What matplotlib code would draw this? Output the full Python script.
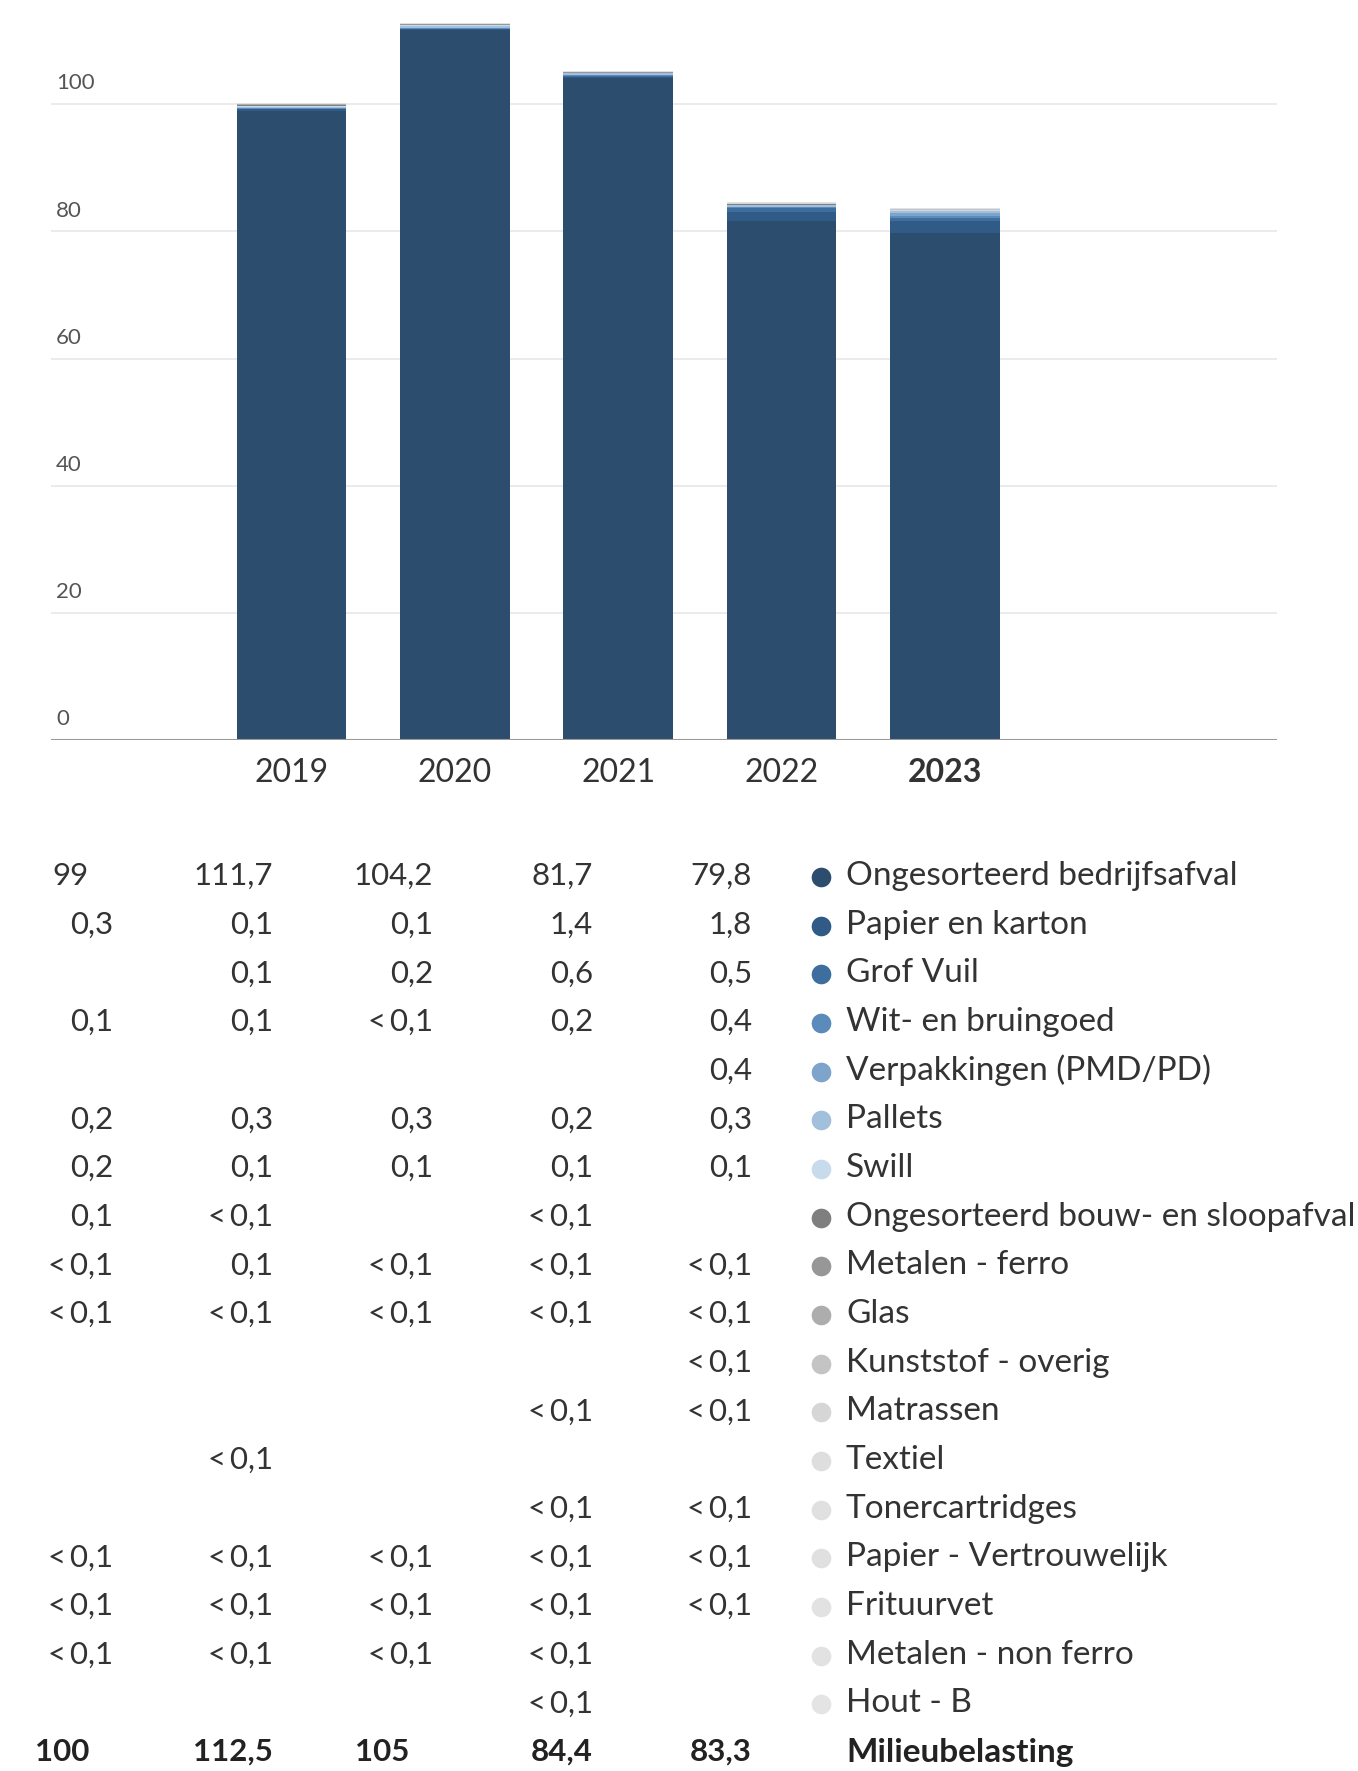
import matplotlib
matplotlib.use("Agg")
import matplotlib.pyplot as plt
import numpy as np

plt.rcParams['font.family'] = ['Lato', 'DejaVu Sans']

years = ['2019', '2020', '2021', '2022', '2023']

categories = ['Ongesorteerd bedrijfsafval', 'Papier en karton', 'Grof Vuil',
              'Wit- en bruingoed', 'Verpakkingen (PMD/PD)', 'Pallets', 'Swill',
              'Ongesorteerd bouw- en sloopafval', 'Metalen - ferro', 'Glas',
              'Kunststof - overig', 'Matrassen', 'Textiel', 'Tonercartridges',
              'Papier - Vertrouwelijk', 'Frituurvet', 'Metalen - non ferro', 'Hout - B']

LT = '<\u20090,1'
table = [
    ['99', '111,7', '104,2', '81,7', '79,8'],
    ['0,3', '0,1', '0,1', '1,4', '1,8'],
    ['', '0,1', '0,2', '0,6', '0,5'],
    ['0,1', '0,1', LT, '0,2', '0,4'],
    ['', '', '', '', '0,4'],
    ['0,2', '0,3', '0,3', '0,2', '0,3'],
    ['0,2', '0,1', '0,1', '0,1', '0,1'],
    ['0,1', LT, '', LT, ''],
    [LT, '0,1', LT, LT, LT],
    [LT, LT, LT, LT, LT],
    ['', '', '', '', LT],
    ['', '', '', LT, LT],
    ['', LT, '', '', ''],
    ['', '', '', LT, LT],
    [LT, LT, LT, LT, LT],
    [LT, LT, LT, LT, LT],
    [LT, LT, LT, LT, ''],
    ['', '', '', LT, ''],
]
totals = ['100', '112,5', '105', '84,4', '83,3']

colors = ['#2d4d6f', '#2f5b86', '#3d6e9e', '#5a8bbb', '#7ea4cb', '#a2bfdc',
          '#c8dbec', '#7f7f7f', '#979797', '#adadad', '#c4c4c4', '#d6d6d6',
          '#dedede', '#e0e0e0', '#e0e0e0', '#e2e2e2', '#e2e2e2', '#e4e4e4']


def num(s):
    if s == '':
        return 0.0
    if s.startswith('<'):
        return 0.05
    return float(s.replace(',', '.'))


W, H = 1358, 1771
fig = plt.figure(figsize=(W / 100, H / 100), dpi=100)

# bar chart
ax = fig.add_axes([51 / W, 1 - 740 / H, 1226 / W, 740 / H])
x = np.arange(len(years))
bottom = np.zeros(len(years))
for row, c in zip(table, colors):
    vals = np.array([num(v) for v in row])
    ax.bar(x, vals, 0.67, bottom=bottom, color=c, zorder=3, linewidth=0)
    bottom += vals

ax.set_xlim(-1.47, 6.03)
ax.set_ylim(0, 116.4)
for s in ax.spines.values():
    s.set_visible(False)
ax.axhline(0, color='#9a9a9a', lw=1.5, zorder=4)
for t in range(20, 101, 20):
    ax.axhline(t, color='#e8e8e8', lw=1.2, zorder=1)
for t in range(0, 101, 20):
    ax.text(0.004, t + 1.7, str(t), transform=ax.get_yaxis_transform(),
            ha='left', va='bottom', fontsize=16, color='#555555')
ax.set_yticks([])
ax.set_xticks(x)
ax.set_xticklabels(years, fontsize=23, color='#333333')
ax.tick_params(axis='x', length=0, pad=13)
ax.get_xticklabels()[-1].set_fontweight('bold')

# table below chart, in pixel coordinates
tb = fig.add_axes([0, 0, 1, 1], zorder=5)
tb.set_xlim(0, W)
tb.set_ylim(H, 0)
tb.axis('off')
tb.patch.set_alpha(0)

col_right = [113, 273, 433, 593, 752]
row_y0, row_dy = 876, 48.67
int_shift = 24
fs_num = 22.5
fs_lab = 24

for i, (row, cat, c) in enumerate(zip(table, categories, colors)):
    y = row_y0 + i * row_dy
    for j, v in enumerate(row):
        if v:
            xr = col_right[j] - (int_shift if ',' not in v else 0)
            tb.text(xr, y, v, ha='right', va='center', fontsize=fs_num, color='#333333')
    tb.scatter([821], [y + 1], s=200, color=c, linewidths=0)
    tb.text(846, y, cat, ha='left', va='center', fontsize=fs_lab, color='#333333')

y = row_y0 + len(table) * row_dy
for j, v in enumerate(totals):
    xr = col_right[j] - (int_shift if ',' not in v else 0)
    tb.text(xr, y, v, ha='right', va='center', fontsize=fs_num, color='#222222',
            fontweight='bold')
tb.text(846, y, 'Milieubelasting', ha='left', va='center', fontsize=fs_lab,
        color='#222222', fontweight='bold')

fig.savefig('out.png', dpi=100)
